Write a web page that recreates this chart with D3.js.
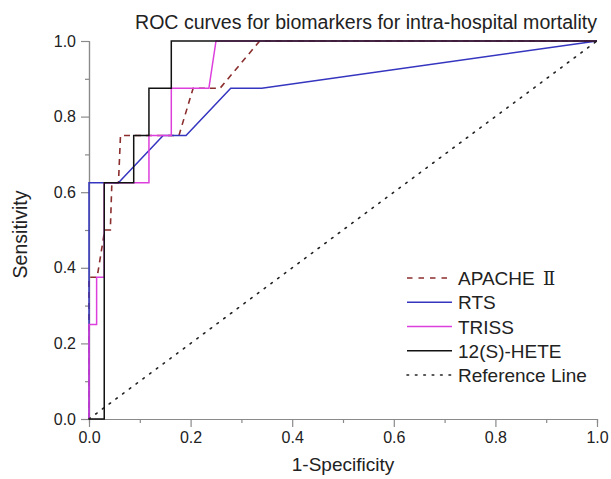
<!DOCTYPE html>
<html>
<head>
<meta charset="utf-8">
<script src="https://cdn.jsdelivr.net/npm/d3@7"></script>
<style>
  html, body { margin: 0; padding: 0; background: #fff; }
  svg { display: block; }
</style>
</head>
<body>
<svg id="chart" width="611" height="479"></svg>
<script>
// ---------- data ----------
const seriesNames = ["APACHE Ⅱ", "RTS", "TRISS", "12(S)-HETE", "Reference Line"];

const apacheFpr = [0, 0, 0.016, 0.031, 0.042, 0.045, 0.058, 0.062, 0.177, 0.205, 0.258, 0.336, 1];
const apacheTpr = [0, 0.375, 0.375, 0.5, 0.5, 0.625, 0.625, 0.75, 0.75, 0.875, 0.875, 1, 1];

const rtsFpr = [0, 0, 0.058, 0.146, 0.191, 0.279, 0.34, 1];
const rtsTpr = [0, 0.625, 0.625, 0.75, 0.75, 0.875, 0.875, 1];

const trissFpr = [0, 0, 0.015, 0.015, 0.03, 0.03, 0.118, 0.118, 0.162, 0.162, 0.236, 0.25, 1];
const trissTpr = [0, 0.25, 0.25, 0.375, 0.375, 0.625, 0.625, 0.75, 0.75, 0.875, 0.875, 1, 1];

const heteFpr = [0, 0.03, 0.03, 0.088, 0.088, 0.118, 0.118, 0.162, 0.162, 1];
const heteTpr = [0, 0, 0.625, 0.625, 0.75, 0.75, 0.875, 0.875, 1, 1];

const refFpr = [0, 1];
const refTpr = [0, 1];

const majorTicks = [0, 0.2, 0.4, 0.6, 0.8, 1.0];
const minorTicks = [0.1, 0.3, 0.5, 0.7, 0.9];

const titleText = "ROC curves for biomarkers for intra-hospital mortality";
const xLabel = "1-Specificity";
const yLabel = "Sensitivity";

// ---------- layout ----------
const svg = d3.select("#chart");
const FONT = "'Liberation Sans', Arial, Helvetica, sans-serif";
const x = d3.scaleLinear().domain([0, 1]).range([89, 597]);
const y = d3.scaleLinear().domain([0, 1]).range([419, 41]);
const axisColor = "#8a8a8a";

const zip = (a, b) => a.map((v, i) => [v, b[i]]);
const series = [
  { name: seriesNames[0], pts: zip(apacheFpr, apacheTpr), color: "#8a2e2e", dash: "6,5", w: 1.6 },
  { name: seriesNames[1], pts: zip(rtsFpr, rtsTpr), color: "#3535c0", dash: null, w: 1.5 },
  { name: seriesNames[2], pts: zip(trissFpr, trissTpr), color: "#dd3fdd", dash: null, w: 1.5 },
  { name: seriesNames[3], pts: zip(heteFpr, heteTpr), color: "#111111", dash: null, w: 1.5 },
  { name: seriesNames[4], pts: zip(refFpr, refTpr), color: "#222222", dash: "1.6,6.8", w: 1.6 }
];

// ---------- axes ----------
function styleAxis(g) {
  g.select(".domain").attr("stroke", axisColor).attr("stroke-width", 1.2);
  g.selectAll(".tick line").attr("stroke", axisColor).attr("stroke-width", 1.2);
  g.selectAll(".tick text").attr("fill", "#222").attr("font-family", FONT).attr("font-size", "16px");
}

const xMinor = svg.append("g").attr("transform", "translate(0,419)")
  .call(d3.axisBottom(x).tickValues(minorTicks).tickSize(4).tickFormat(""));
styleAxis(xMinor);
const xMajor = svg.append("g").attr("transform", "translate(0,419)")
  .call(d3.axisBottom(x).tickValues(majorTicks).tickSize(8).tickSizeOuter(0).tickPadding(5).tickFormat(d3.format(".1f")));
styleAxis(xMajor);

const yMinor = svg.append("g").attr("transform", "translate(89,0)")
  .call(d3.axisLeft(y).tickValues(minorTicks).tickSize(4).tickFormat(""));
styleAxis(yMinor);
const yMajor = svg.append("g").attr("transform", "translate(89,0)")
  .call(d3.axisLeft(y).tickValues(majorTicks).tickSize(8).tickSizeOuter(0).tickPadding(5).tickFormat(d3.format(".1f")));
styleAxis(yMajor);

// ---------- curves ----------
const line = d3.line().x(d => x(d[0])).y(d => y(d[1]));
const curveG = svg.append("g");
series.forEach(s => {
  curveG.append("path")
    .attr("d", line(s.pts))
    .attr("fill", "none")
    .attr("stroke", s.color)
    .attr("stroke-width", s.w)
    .attr("stroke-dasharray", s.dash)
    .attr("stroke-linecap", s.name === "Reference Line" ? "round" : "butt");
});

// ---------- titles ----------
svg.append("text")
  .attr("x", 135).attr("y", 29)
  .attr("textLength", 462).attr("lengthAdjust", "spacingAndGlyphs")
  .attr("font-family", FONT).attr("font-size", "20px").attr("fill", "#222")
  .text(titleText);

svg.append("text")
  .attr("x", 343).attr("y", 471)
  .attr("text-anchor", "middle")
  .attr("font-family", FONT).attr("font-size", "19px").attr("fill", "#222")
  .text(xLabel);

svg.append("text")
  .attr("transform", "translate(27,234.5) rotate(-90)")
  .attr("text-anchor", "middle")
  .attr("font-family", FONT).attr("font-size", "19.5px").attr("fill", "#222")
  .text(yLabel);

// ---------- legend ----------
const legend = svg.append("g");
const rowY = d3.scaleLinear().domain([0, 4]).range([278, 375]);
series.forEach((s, i) => {
  const cy = rowY(i);
  legend.append("line")
    .attr("x1", 407).attr("x2", 452).attr("y1", cy).attr("y2", cy)
    .attr("stroke", s.color).attr("stroke-width", s.w)
    .attr("stroke-dasharray", s.dash === "6,5" ? "5.5,6" : s.dash)
    .attr("stroke-linecap", s.name === "Reference Line" ? "round" : "butt");
  const t = legend.append("text")
    .attr("x", 458).attr("y", cy + 7)
    .attr("font-family", FONT).attr("font-size", "19px").attr("fill", "#222");
  if (s.name.includes("Ⅱ")) {
    t.append("tspan").text("APACHE ");
    t.append("tspan").attr("font-family", "'DejaVu Serif', 'Liberation Serif', serif").attr("font-size", "18px").attr("dx", 3).text("Ⅱ");
  } else {
    t.text(s.name);
  }
});
</script>
</body>
</html>
